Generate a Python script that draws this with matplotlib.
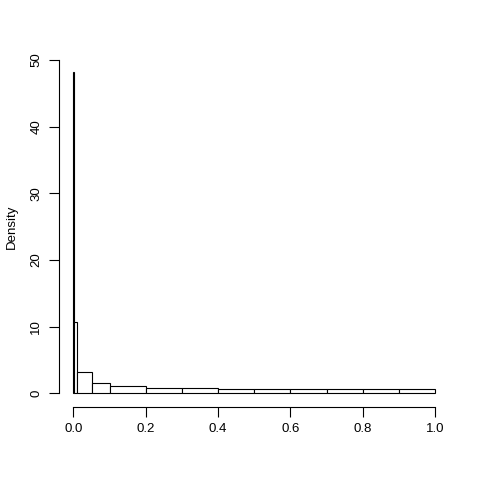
import matplotlib.pyplot as plt
import numpy as np

plt.rcParams['font.family'] = ['Liberation Sans', 'DejaVu Sans']

breaks = np.array([0, 0.001, 0.01, 0.05, 0.1, 0.2, 0.3, 0.4, 0.5, 0.6, 0.7, 0.8, 0.9, 1.0])
density = np.array([48.2, 10.75, 3.15, 1.5, 1.05, 0.85, 0.75, 0.73, 0.64, 0.63, 0.63, 0.63, 0.63])

fig = plt.figure(figsize=(4.8, 4.8), dpi=100)
ax = fig.add_axes([59 / 480, 1 - 406.7 / 480, (449.5 - 59) / 480, (406.7 - 46.7) / 480])

ax.bar(breaks[:-1], density, width=np.diff(breaks), align='edge',
       facecolor='white', edgecolor='black', linewidth=0.8)

ax.set_xlim(-0.04, 1.04)
ax.set_ylim(-2, 52)

ax.set_xticks(np.arange(0, 1.01, 0.2))
ax.set_xticklabels(['0.0', '0.2', '0.4', '0.6', '0.8', '1.0'])
ax.set_yticks([0, 10, 20, 30, 40, 50])
ax.set_yticklabels(['0', '10', '20', '30', '40', '50'], rotation=90, va='center')

for s in ['top', 'right']:
    ax.spines[s].set_visible(False)
ax.spines['bottom'].set_bounds(0, 1)
ax.spines['left'].set_bounds(0, 50)
ax.spines['left'].set_linewidth(0.8)
ax.spines['bottom'].set_linewidth(0.8)
ax.tick_params(length=7, width=0.8, labelsize=9.5, pad=5)

ax.set_ylabel('Density', fontsize=9.5, labelpad=9)

plt.savefig('out.png', dpi=100)
